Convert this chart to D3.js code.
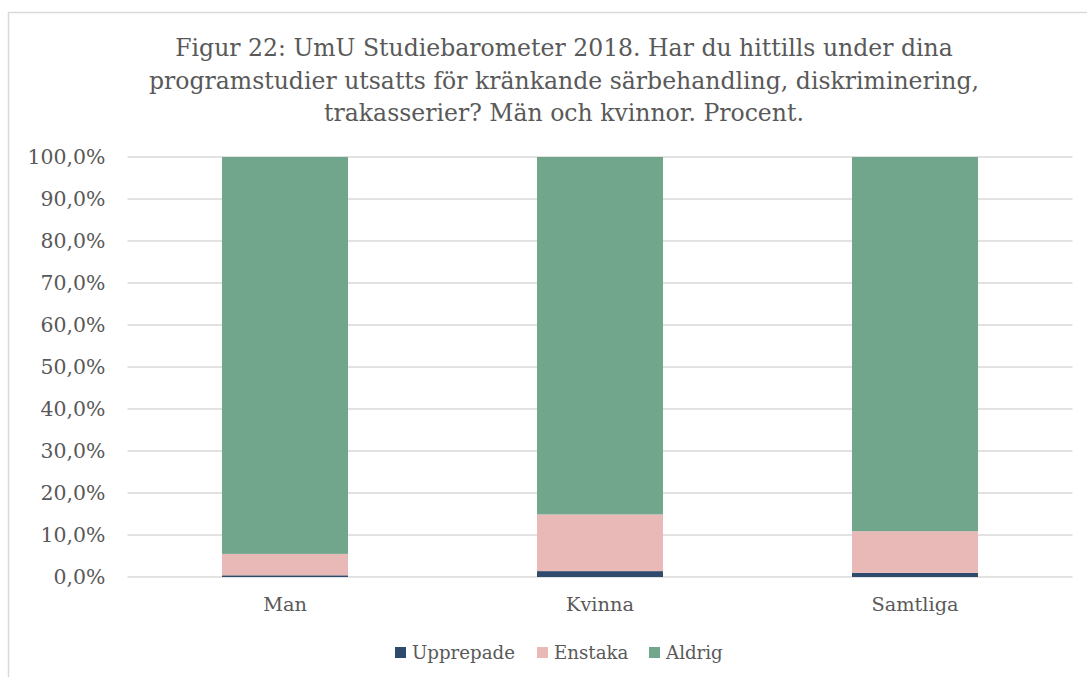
<!DOCTYPE html>
<html>
<head>
<meta charset="utf-8">
<script src="https://cdn.jsdelivr.net/npm/d3@7"></script>
<style>
  body { margin: 0; background: #fff; }
  svg { display: block; }
  text { font-family: "DejaVu Serif", "Liberation Serif", serif; fill: #595959; }
</style>
</head>
<body>
<svg width="1087" height="677"></svg>
<script>
// Data
var categories = ["Man", "Kvinna", "Samtliga"];
var seriesNames = ["Upprepade", "Enstaka", "Aldrig"];
var upprepade = [0.4, 1.4, 1.0];
var enstaka = [5.1, 13.5, 9.9];
var aldrig = [94.5, 85.1, 89.1];
var yTicks = [0, 10, 20, 30, 40, 50, 60, 70, 80, 90, 100];
var titleLines = [
  "Figur 22: UmU Studiebarometer 2018. Har du hittills under dina",
  "programstudier utsatts för kränkande särbehandling, diskriminering,",
  "trakasserier? Män och kvinnor. Procent."
];

var svg = d3.select("svg");
var color = d3.scaleOrdinal().domain(seriesNames).range(["#2E4A6D", "#E9B9B7", "#71A68D"]);

// fit a font size so a sample string reaches a target width
function fitSize(str, target) {
  var t = svg.append("text").attr("font-size", 20).text(str);
  var w = t.node().getComputedTextLength();
  t.remove();
  return 20 * target / w;
}

// chart frame
svg.append("path")
  .attr("d", "M8.5,677 V12.5 H1087")
  .attr("fill", "none").attr("stroke", "#D9D9D9").attr("stroke-width", 1.5);

var x = d3.scaleBand().domain(categories).range([127.5, 1072.5]).paddingInner(0.6).paddingOuter(0.3);
var y = d3.scaleLinear().domain([0, 100]).range([577, 157]);

// title
var titleSize = fitSize(titleLines[0], 778);
svg.append("g").selectAll("text")
  .data(titleLines).enter().append("text")
  .attr("x", 564)
  .attr("y", function(d, i) { return 56 + i * 32.5; })
  .attr("text-anchor", "middle")
  .attr("font-size", titleSize)
  .text(function(d) { return d; });

// gridlines
svg.append("g").selectAll("line")
  .data(yTicks).enter().append("line")
  .attr("x1", 127.5).attr("x2", 1072.5)
  .attr("y1", function(d) { return y(d); })
  .attr("y2", function(d) { return y(d); })
  .attr("stroke", "#D9D9D9").attr("stroke-width", 1.3);

// y axis labels
var fmt = function(d) { return d3.format(".1f")(d).replace(".", ",") + "%"; };
var ySize = fitSize("100,0%", 78);
var yAxis = d3.axisLeft(y).tickValues(yTicks).tickFormat(fmt).tickSize(0).tickPadding(22);
var ya = svg.append("g").attr("transform", "translate(127.5,0)").call(yAxis);
ya.select(".domain").remove();
ya.selectAll("text").attr("font-size", ySize).attr("font-family", null).attr("fill", "#595959");

// stacked bars
var rows = categories.map(function(c, i) {
  return { cat: c, Upprepade: upprepade[i], Enstaka: enstaka[i], Aldrig: aldrig[i] };
});
var stacked = d3.stack().keys(seriesNames)(rows);

svg.append("g").selectAll("g")
  .data(stacked).enter().append("g")
  .attr("fill", function(d) { return color(d.key); })
  .selectAll("rect")
  .data(function(d) { return d; }).enter().append("rect")
  .attr("x", function(d) { return x(d.data.cat); })
  .attr("width", x.bandwidth())
  .attr("y", function(d) { return y(d[1]); })
  .attr("height", function(d) { return y(d[0]) - y(d[1]); });

// category labels
var catSize = fitSize("Kvinna", 68);
var xAxis = d3.axisBottom(x).tickSize(0).tickPadding(0);
var xa = svg.append("g").attr("transform", "translate(0,577)").call(xAxis);
xa.select(".domain").remove();
xa.selectAll("text").attr("font-size", catSize).attr("font-family", null)
  .attr("fill", "#595959").attr("dy", null).attr("y", 34);

// legend
var legSize = fitSize("Upprepade", 103);
var legX = [395, 537, 649];
var leg = svg.append("g").selectAll("g")
  .data(seriesNames).enter().append("g")
  .attr("transform", function(d, i) { return "translate(" + legX[i] + ",647)"; });
leg.append("rect").attr("width", 11).attr("height", 11)
  .attr("fill", function(d) { return color(d); });
leg.append("text").attr("x", 17).attr("y", 11.5)
  .attr("font-size", legSize)
  .text(function(d) { return d; });
</script>
</body>
</html>
